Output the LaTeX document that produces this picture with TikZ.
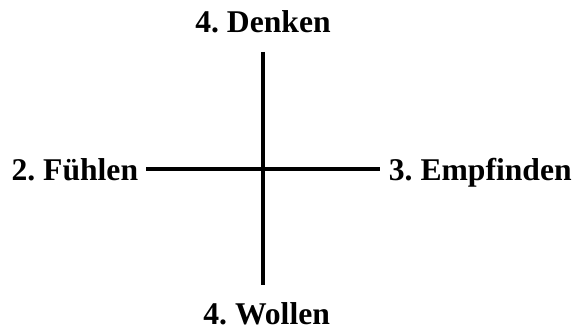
\documentclass[tikz,border=0pt]{standalone}
\usepackage{fontspec}
\setmainfont{Liberation Serif}
\frenchspacing
\usetikzlibrary{positioning, calc}
\tikzset{
  every picture/.style={line width=3.2pt},
  pole/.style={font=\fontsize{27}{32}\selectfont\bfseries, inner sep=0pt},
  axis/.style={draw=black, line width=3.2pt},
}
\begin{document}
\begin{tikzpicture}
  \useasboundingbox (0,0) rectangle (17.34,-9.96);
  % the four poles
  \node[pole, anchor=base] (denken) at (7.89,-0.99) {4. Denken};
  \node[pole, anchor=base] (wollen) at (8.0,-9.72) {4. Wollen};
  \node[pole, anchor=base east] (fuehlen) at (4.2,-5.4) {2. Fühlen};
  \node[pole, anchor=base west] (empfinden) at (11.61,-5.4) {3. Empfinden};
  % the cross
  \coordinate (oben) at (7.89,-1.56);
  \coordinate (unten) at (7.89,-8.55);
  \coordinate (links) at ($(fuehlen.base east)+(0.18,0.33)$);
  \coordinate (rechts) at ($(links -| empfinden.west)+(-0.2,0)$);
  \draw[axis] (oben) -- (unten);
  \draw[axis] (links) -- (rechts);
\end{tikzpicture}
\end{document}
